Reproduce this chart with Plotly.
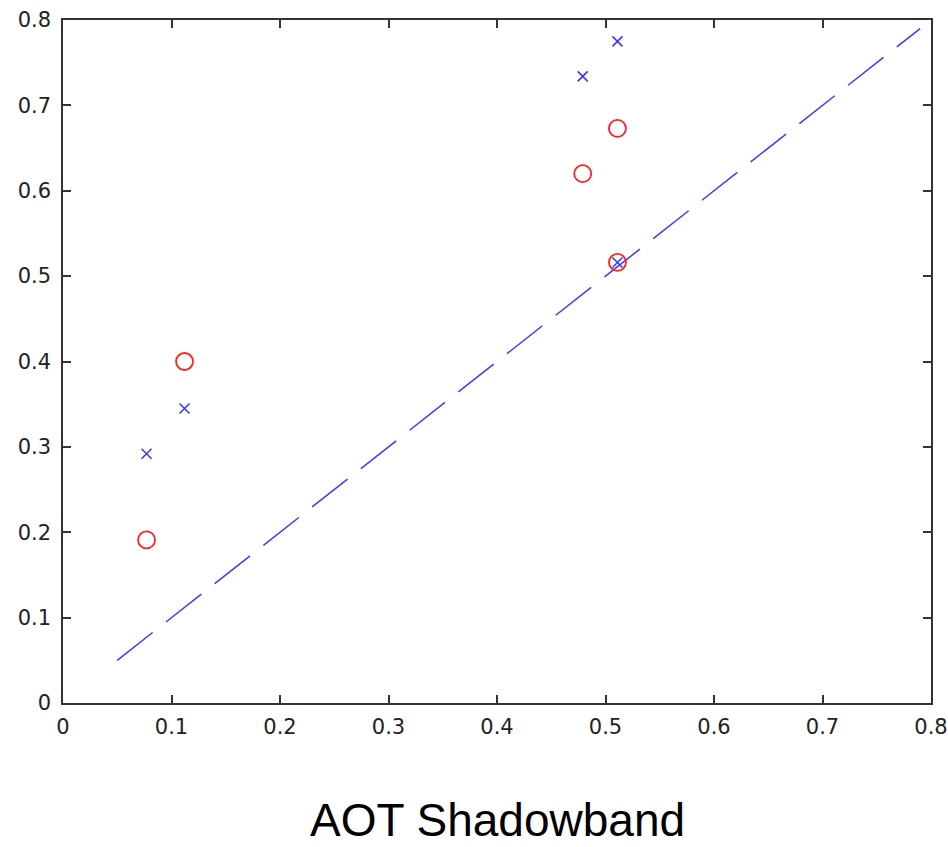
import plotly.graph_objects as go

# AOT shadowband (x) vs retrieved AOT (y)
shadowband_aot = [0.077, 0.112, 0.479, 0.511, 0.511]
retrieval_a = [0.191, 0.400, 0.620, 0.673, 0.516]   # red circles
retrieval_b = [0.292, 0.345, 0.734, 0.775, 0.516]   # blue crosses
one_to_one = [0.05, 0.79]

fig = go.Figure()

fig.add_trace(go.Scatter(
    x=one_to_one, y=one_to_one, mode="lines",
    line=dict(color="#3a3aff", width=1.5, dash="45px,17px"),
    showlegend=False, hoverinfo="skip"))

fig.add_trace(go.Scatter(
    x=shadowband_aot, y=retrieval_b, mode="markers",
    marker=dict(symbol="x-thin-open", size=10, color="#3a3aff",
                line=dict(color="#3a3aff", width=1.6)),
    showlegend=False))

fig.add_trace(go.Scatter(
    x=shadowband_aot, y=retrieval_a, mode="markers",
    marker=dict(symbol="circle-open", size=17, color="#ff2020",
                line=dict(color="#ff2020", width=1.8)),
    showlegend=False))

tick_vals = [0, 0.1, 0.2, 0.3, 0.4, 0.5, 0.6, 0.7, 0.8]
tick_text = ["0", "0.1", "0.2", "0.3", "0.4", "0.5", "0.6", "0.7", "0.8"]

axis_style = dict(
    range=[0, 0.8], tickvals=tick_vals, ticktext=tick_text,
    ticks="inside", ticklen=8, tickwidth=1.5, tickcolor="#333333",
    showline=True, linecolor="#333333", linewidth=1.5, mirror="ticks",
    showgrid=False, zeroline=False, automargin=False,
    tickfont=dict(family="DejaVu Sans", size=21, color="#222222"),
)

fig.update_xaxes(**axis_style, ticklabelstandoff=4)
fig.update_yaxes(**axis_style, ticklabelstandoff=6)

fig.add_annotation(
    text="AOT Shadowband", xref="paper", yref="paper",
    x=0.5, y=-0.171, xanchor="center", yanchor="middle", showarrow=False,
    font=dict(family="Liberation Sans, Arial", size=46, color="#000000"))

fig.update_layout(
    width=948, height=847,
    margin=dict(l=63, r=17, t=20, b=144),
    paper_bgcolor="white", plot_bgcolor="white",
)

fig.write_html("out.html")
